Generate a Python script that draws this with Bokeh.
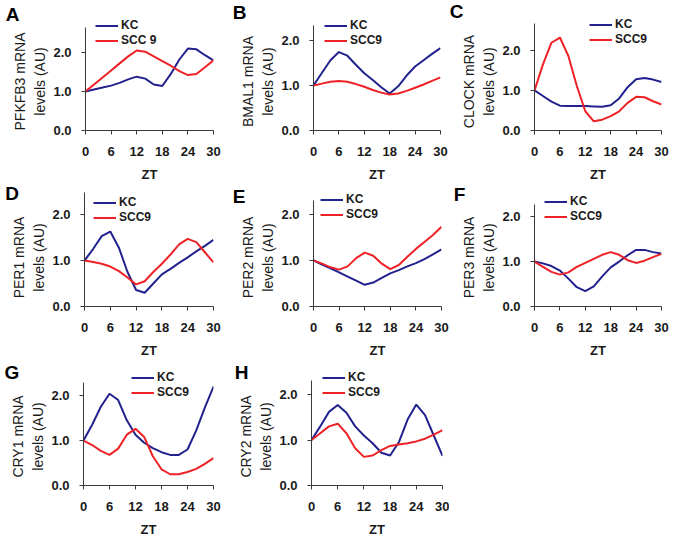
from bokeh.plotting import figure
from bokeh.models import Range1d, FixedTicker, Label, Legend, LegendItem
from bokeh.layouts import column, row
from bokeh.embed import file_html
from bokeh.resources import INLINE

# ---------------- data ----------------
ZT = [0, 2, 4, 6, 8, 10, 12, 14, 16, 18, 20, 22, 24, 26, 28, 30]
X_TICKS = [0, 6, 12, 18, 24, 30]
Y_TICKS = [0, 1, 2]
Y_TICK_LABELS = ["0.0", "1.0", "2.0"]

PFKFB3_KC = [1.00, 1.05, 1.10, 1.15, 1.22, 1.31, 1.38, 1.33, 1.18, 1.14, 1.45, 1.82, 2.10, 2.08, 1.93, 1.80]
PFKFB3_SCC = [1.00, 1.18, 1.36, 1.54, 1.72, 1.90, 2.05, 2.02, 1.90, 1.78, 1.66, 1.52, 1.42, 1.45, 1.62, 1.80]

BMAL1_KC = [1.00, 1.28, 1.56, 1.74, 1.66, 1.46, 1.27, 1.12, 0.96, 0.82, 0.98, 1.22, 1.42, 1.56, 1.70, 1.83]
BMAL1_SCC = [1.00, 1.04, 1.08, 1.10, 1.08, 1.03, 0.97, 0.90, 0.84, 0.80, 0.82, 0.88, 0.95, 1.02, 1.10, 1.18]

CLOCK_KC = [1.00, 0.86, 0.72, 0.62, 0.61, 0.61, 0.61, 0.60, 0.59, 0.63, 0.80, 1.08, 1.28, 1.31, 1.27, 1.21]
CLOCK_SCC = [1.00, 1.65, 2.19, 2.32, 1.86, 1.11, 0.48, 0.23, 0.27, 0.36, 0.48, 0.69, 0.84, 0.83, 0.73, 0.65]

PER1_KC = [1.00, 1.25, 1.53, 1.63, 1.28, 0.75, 0.36, 0.30, 0.50, 0.70, 0.82, 0.95, 1.07, 1.20, 1.32, 1.45]
PER1_SCC = [1.00, 0.97, 0.93, 0.87, 0.77, 0.63, 0.48, 0.55, 0.75, 0.93, 1.13, 1.35, 1.47, 1.40, 1.18, 0.96]

PER2_KC = [1.00, 0.91, 0.83, 0.74, 0.65, 0.56, 0.47, 0.52, 0.62, 0.72, 0.79, 0.87, 0.94, 1.03, 1.13, 1.24]
PER2_SCC = [1.00, 0.93, 0.85, 0.80, 0.87, 1.05, 1.17, 1.10, 0.93, 0.81, 0.90, 1.08, 1.25, 1.40, 1.55, 1.73]

PER3_KC = [1.00, 0.96, 0.90, 0.80, 0.62, 0.43, 0.34, 0.45, 0.67, 0.87, 1.00, 1.14, 1.26, 1.26, 1.21, 1.18]
PER3_SCC = [1.00, 0.88, 0.77, 0.71, 0.76, 0.88, 0.97, 1.06, 1.15, 1.21, 1.15, 1.03, 0.97, 1.02, 1.10, 1.17]

CRY1_KC = [1.00, 1.35, 1.75, 2.04, 1.90, 1.45, 1.13, 0.95, 0.83, 0.74, 0.68, 0.68, 0.80, 1.22, 1.73, 2.20]
CRY1_SCC = [1.00, 0.90, 0.77, 0.68, 0.82, 1.13, 1.26, 1.08, 0.65, 0.36, 0.25, 0.25, 0.30, 0.37, 0.48, 0.61]

CRY2_KC = [1.00, 1.30, 1.62, 1.77, 1.60, 1.30, 1.10, 0.93, 0.72, 0.66, 0.95, 1.45, 1.78, 1.55, 1.10, 0.65]
CRY2_SCC = [1.00, 1.15, 1.30, 1.36, 1.15, 0.82, 0.63, 0.66, 0.78, 0.87, 0.90, 0.93, 0.97, 1.03, 1.12, 1.22]

PANELS = [
    ("A", "PFKFB3", PFKFB3_KC, PFKFB3_SCC, "SCC 9"),
    ("B", "BMAL1", BMAL1_KC, BMAL1_SCC, "SCC9"),
    ("C", "CLOCK", CLOCK_KC, CLOCK_SCC, "SCC9"),
    ("D", "PER1", PER1_KC, PER1_SCC, "SCC9"),
    ("E", "PER2", PER2_KC, PER2_SCC, "SCC9"),
    ("F", "PER3", PER3_KC, PER3_SCC, "SCC9"),
    ("G", "CRY1", CRY1_KC, CRY1_SCC, "SCC9"),
    ("H", "CRY2", CRY2_KC, CRY2_SCC, "SCC9"),
]

# ---------------- layout / style (page pixels) ----------------
FONT = "Liberation Sans"
BLUE = "#22228e"
RED = "#ee2226"
AXIS = "#3a3a3a"
TXT = "#1a1a1a"
ML = 36  # room for the y tick labels inside the plot canvas

COLS = {0: (0, 226), 1: (226, 449), 2: (449, 669)}
ROWS = {0: (0, 184, 130), 1: (184, 360, 306), 2: (360, 539, 485)}  # top, bottom, x-axis y

# col, row, y-axis x, x=30 x, y-axis top y, ymax, KC legend row y, legend glyph x, letter centre
SPEC = {
    "A": dict(c=0, r=0, ax=85, x30=213, top=27, ymax=2.64, kc=25, lgx=95, let=(12, 13.5)),
    "B": dict(c=1, r=0, ax=313, x30=440, top=25, ymax=2.33, kc=25, lgx=324, let=(239, 11.5)),
    "C": dict(c=2, r=0, ax=534, x30=661, top=23, ymax=2.67, kc=24, lgx=589, let=(456, 10.5)),
    "D": dict(c=0, r=1, ax=84, x30=213, top=192, ymax=2.48, kc=202, lgx=93, let=(11.5, 193)),
    "E": dict(c=1, r=1, ax=313, x30=441, top=200, ymax=2.30, kc=199, lgx=320, let=(238.5, 195.5)),
    "F": dict(c=2, r=1, ax=534, x30=661, top=204, ymax=2.27, kc=201, lgx=544, let=(459, 193.5)),
    "G": dict(c=0, r=2, ax=83, x30=213, top=382, ymax=2.29, kc=377, lgx=131, let=(11.5, 371.5)),
    "H": dict(c=1, r=2, ax=311, x30=442, top=380, ymax=2.31, kc=377, lgx=322, let=(241, 371.5)),
}


def make_panel(key, gene, kc, scc, scc_label):
    s = SPEC[key]
    x0, x1 = COLS[s["c"]]
    y0, y1, axy = ROWS[s["r"]]
    h = y1 - y0
    bottom = y1 - axy                # room for x tick labels and "ZT"
    lw = s["ax"] - x0 - ML           # width of the text strip left of the plot
    leg_top = s["kc"] - 7.5
    # the plot frame reaches the canvas top; the y axis itself stops at ymax (bounds)
    y_end = s["ymax"] * (axy - y0) / (axy - s["top"])

    # ---- strip with panel letter and y-axis title (frame aligned with the chart frame)
    t = figure(width=lw, height=h, x_range=Range1d(0, lw), y_range=Range1d(0, axy - y0),
               x_axis_location=None, y_axis_location=None, output_backend="svg",
               toolbar_location=None, min_border_left=0, min_border_right=0,
               min_border_top=0, min_border_bottom=bottom)
    t.outline_line_color = None
    t.grid.visible = False
    lx, ly = s["let"]
    t.add_layout(Label(x=lx - x0, y=axy - ly, x_units="screen", y_units="screen", text=key,
                       text_font=FONT, text_font_size="19px", text_font_style="bold",
                       text_color="black", text_align="center", text_baseline="middle"))
    for dx, txt in ((-66, f"{gene} mRNA"), (-46, "levels (AU)")):
        t.add_layout(Label(x=s["ax"] + dx - x0, y=49, x_units="screen", y_units="screen",
                           text=txt, angle=90, angle_units="deg",
                           text_font=FONT, text_font_size="14px", text_color=TXT,
                           text_align="center", text_baseline="middle"))

    # ---- the chart itself
    p = figure(width=x1 - x0 - lw, height=h, x_range=Range1d(0, 30), y_range=Range1d(0, y_end),
               output_backend="svg", toolbar_location=None,
               min_border_left=ML, min_border_right=int(x1 - s["x30"]),
               min_border_top=0, min_border_bottom=bottom)
    p.outline_line_color = None
    p.grid.visible = False

    for ax in (p.xaxis[0], p.yaxis[0]):
        ax.axis_line_color = AXIS
        ax.axis_line_width = 1
        ax.major_tick_line_color = AXIS
        ax.major_tick_out = 4
        ax.major_tick_in = 0
        ax.minor_tick_line_color = None
        ax.major_label_text_font = FONT
        ax.major_label_text_font_size = "13px"
        ax.major_label_text_font_style = "bold"
        ax.major_label_text_color = TXT

    p.xaxis.ticker = FixedTicker(ticks=X_TICKS)
    p.xaxis.major_label_standoff = 12
    p.xaxis.axis_label = "ZT"
    p.xaxis.axis_label_text_font = FONT
    p.xaxis.axis_label_text_font_size = "13px"
    p.xaxis.axis_label_text_font_style = "bold"
    p.xaxis.axis_label_text_color = TXT
    p.xaxis.axis_label_standoff = 8

    p.yaxis.ticker = FixedTicker(ticks=Y_TICKS)
    p.yaxis.major_label_overrides = dict(zip(Y_TICKS, Y_TICK_LABELS))
    p.yaxis.major_label_standoff = 10
    p.yaxis.bounds = (0, s["ymax"])

    r1 = p.line(ZT, kc, line_color=BLUE, line_width=2)
    r2 = p.line(ZT, scc, line_color=RED, line_width=2)

    leg = Legend(items=[LegendItem(label="KC", renderers=[r1]),
                        LegendItem(label=scc_label, renderers=[r2])],
                 location=(s["lgx"] - s["ax"], axy - (leg_top + 30)), orientation="vertical",
                 padding=0, margin=0, spacing=0,
                 glyph_width=23, glyph_height=15, label_height=15, label_standoff=3,
                 label_text_font=FONT, label_text_font_size="12px", label_text_font_style="bold",
                 label_text_color=TXT, background_fill_alpha=0, border_line_color=None)
    p.add_layout(leg)
    return t, p


parts = {k: make_panel(k, g, kc, scc, lab) for k, g, kc, scc, lab in PANELS}
layout = column(
    row(*parts["A"], *parts["B"], *parts["C"]),
    row(*parts["D"], *parts["E"], *parts["F"]),
    row(*parts["G"], *parts["H"]),
)

open("out.html", "w").write(file_html(layout, INLINE))
